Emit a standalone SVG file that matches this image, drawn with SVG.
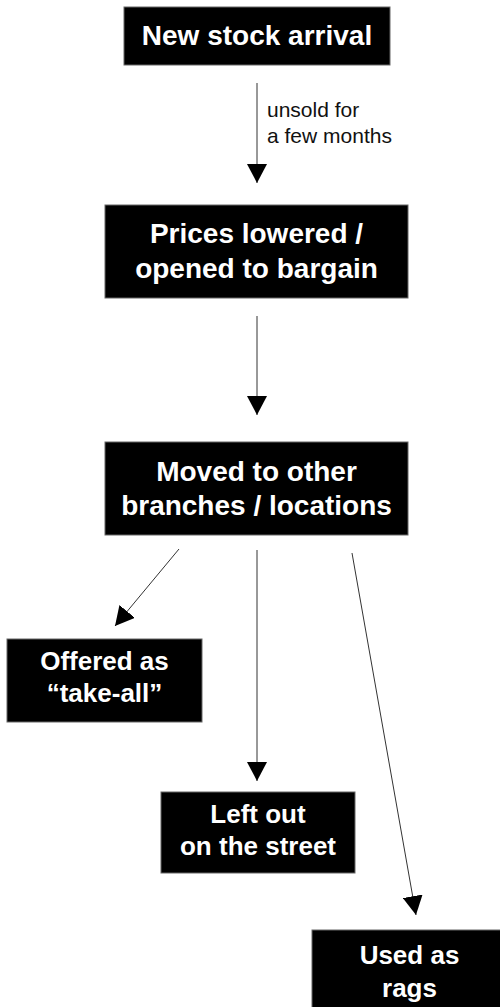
<svg xmlns="http://www.w3.org/2000/svg" width="500" height="1007" viewBox="0 0 500 1007">
<style>
.box{fill:#000;stroke:#666;stroke-width:1}
.t{font-family:"Liberation Sans",Arial,sans-serif;font-weight:bold;fill:#fff;text-anchor:middle}
.t28{font-size:28px}
.t26{font-size:26px}
.lbl{font-family:"Liberation Sans",Arial,sans-serif;font-size:21px;fill:#111}
.c{stroke:#333;stroke-width:1;fill:none;marker-end:url(#ah)}
</style>
<defs>
<marker id="ah" viewBox="0 0 19 20" refX="19" refY="10" markerWidth="19" markerHeight="20" markerUnits="userSpaceOnUse" orient="auto">
<path d="M0,0 L19,10 L0,20 Z" fill="#000"/>
</marker>
</defs>
<rect width="500" height="1007" fill="#fff"/>
<g id="connectors">
<line class="c" x1="257" y1="83" x2="257" y2="183"/>
<line class="c" x1="257" y1="316" x2="257" y2="415"/>
<line class="c" x1="179" y1="549" x2="115" y2="626"/>
<line class="c" x1="257" y1="550" x2="257" y2="781"/>
<line class="c" x1="352" y1="553" x2="416" y2="915"/>
<text class="lbl" x="267" y="117">unsold for</text>
<text class="lbl" x="267" y="143">a few months</text>
</g>
<g id="n1">
<rect class="box" x="124" y="7" width="266" height="58"/>
<text class="t t28" x="257" y="45">New stock arrival</text>
</g>
<g id="n2">
<rect class="box" x="105" y="205" width="303" height="93"/>
<text class="t t28" x="256.5" y="243">Prices lowered /</text>
<text class="t t28" x="256.5" y="278">opened to bargain</text>
</g>
<g id="n3">
<rect class="box" x="105" y="442" width="303" height="93"/>
<text class="t t28" x="256.5" y="481">Moved to other</text>
<text class="t t28" x="256.5" y="515">branches / locations</text>
</g>
<g id="n4">
<rect class="box" x="7" y="639" width="195" height="83"/>
<text class="t t26" x="104.5" y="670">Offered as</text>
<text class="t t26" x="104.5" y="702">“take-all”</text>
</g>
<g id="n5">
<rect class="box" x="161" y="792" width="194" height="81"/>
<text class="t t26" x="258" y="823">Left out</text>
<text class="t t26" x="258" y="855">on the street</text>
</g>
<g id="n6">
<rect class="box" x="312" y="930" width="195" height="83"/>
<text class="t t26" x="409.5" y="964">Used as</text>
<text class="t t26" x="409.5" y="997">rags</text>
</g>
</svg>
